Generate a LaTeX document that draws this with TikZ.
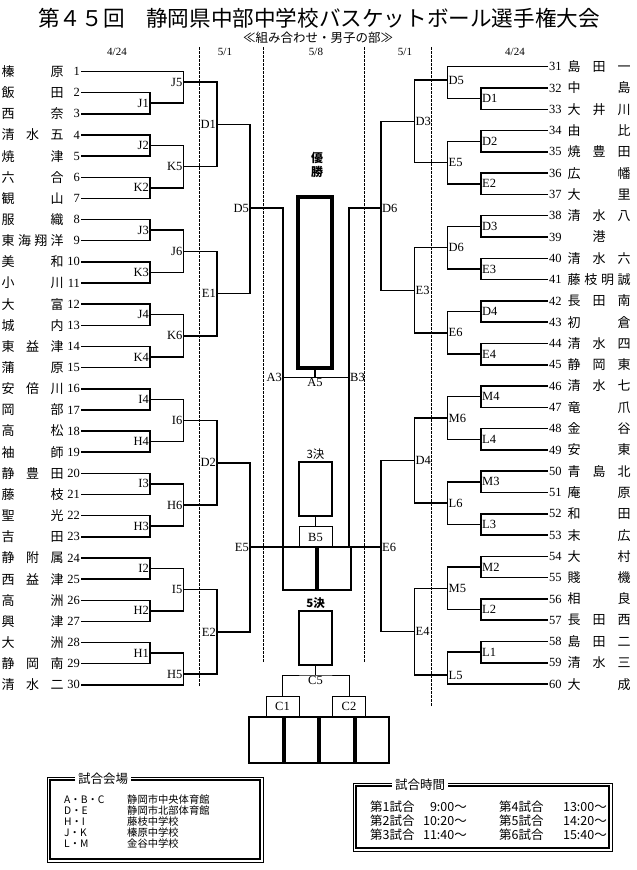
\documentclass[tikz,border=0pt]{standalone}
\usepackage{fontspec}
\setmainfont{Liberation Serif}
\newfontfamily\jp{Noto Sans CJK JP}
\usetikzlibrary{positioning}

\tikzset{
  bk/.style={line width=1.5pt},
  dsh/.style={line width=0.6pt, dash pattern=on 2.5pt off 1.5pt},
  num/.style={inner sep=1pt, font=\fontsize{12.5}{13}\selectfont},
  team/.style={inner sep=0pt, font=\jp\fontsize{13}{13}\selectfont},
  mlbl/.style={inner sep=1pt, font=\fontsize{12.5}{13}\selectfont},
  datelbl/.style={inner sep=0pt, font=\fontsize{11}{11}\selectfont},
  cell/.style={draw, line width=2pt, minimum width=33pt, minimum height=43pt, inner sep=0pt},
  tallbox/.style={draw, line width=2.2pt, minimum width=33pt, minimum height=54pt, inner sep=0pt},
  gamebox/.style={draw, line width=1pt, minimum width=33pt, minimum height=21pt, inner sep=0pt, font=\fontsize{12.5}{13}\selectfont},
  infotext/.style={inner sep=0pt, font=\jp\fontsize{10.3}{11}\selectfont},
  timetext/.style={inner sep=0pt, font=\jp\fontsize{12.5}{13}\selectfont},
  header/.style={fill=white, inner sep=3pt, font=\jp\fontsize{12.5}{13}\selectfont}
}

\begin{document}
\begin{tikzpicture}[x=1pt, y=-1pt]
  \useasboundingbox[fill=white] (0,0) rectangle (637,870);

  % Title
  \node[font=\jp\fontsize{21.6}{22}\selectfont] (title) at (319,18) {第４５回　静岡県中部中学校バスケットボール選手権大会};
  \node[font=\jp\fontsize{12.5}{13}\selectfont] (sub) at (318,38) {≪組み合わせ・男子の部≫};
  \node[datelbl] (d1) at (117,52) {4/24};
  \node[datelbl] (d2) at (225,52) {5/1};
  \node[datelbl] (d3) at (316,52) {5/8};
  \node[datelbl] (d4) at (405,52) {5/1};
  \node[datelbl] (d5) at (515,52) {4/24};

  % Day lines
  \draw[dsh] (199,47) -- (199,687);
  \draw[dsh] (263,47) -- (263,662);
  \draw[dsh] (364,47) -- (364,662);
  \draw[dsh] (431,47) -- (431,707);

  % Define teams
  \foreach \n/\nm in {1/榛 原, 2/飯 田, 3/西 奈, 4/清 水 五, 5/焼 津, 6/六 合,
      7/観 山, 8/服 織, 9/東 海 翔 洋, 10/美 和, 11/小 川, 12/大 富, 13/城 内,
      14/東 益 津, 15/蒲 原, 16/安 倍 川, 17/岡 部, 18/高 松, 19/袖 師,
      20/静 豊 田, 21/藤 枝, 22/聖 光, 23/吉 田, 24/静 附 属, 25/西 益 津,
      26/高 洲, 27/興 津, 28/大 洲, 29/静 岡 南, 30/清 水 二} {
    \node[num, anchor=east] (L\n) at (81,{71.5+(\n-1)*21.15}) {\n};
    \node[team, anchor=west] at (1.5,{71.5+(\n-1)*21.15}) {\makebox[62pt][s]{\nm}};
  }
  \foreach \n/\nm in {31/島 田 一, 32/中 島, 33/大 井 川, 34/由 比, 35/焼 豊 田,
      36/広 幡, 37/大 里, 38/清 水 八, 39/\hfil 港\hfil, 40/清 水 六, 41/藤 枝 明 誠,
      42/長 田 南, 43/初 倉, 44/清 水 四, 45/静 岡 東, 46/清 水 七, 47/竜 爪,
      48/金 谷, 49/安 東, 50/青 島 北, 51/庵 原, 52/和 田, 53/末 広, 54/大 村,
      55/賤 機, 56/相 良, 57/長 田 西, 58/島 田 二, 59/清 水 三, 60/大 成} {
    \node[num, anchor=west] (R\n) at (548,{66.7+(\n-31)*21.29}) {\n};
    \node[team, anchor=west] at (567.5,{66.7+(\n-31)*21.29}) {\makebox[63pt][s]{\nm}};
  }

  % Left bracket
  \foreach \m/\x/\y/\a/\b in {
      J1/150/103.2/L2.east/L3.east, J2/150/145.5/L4.east/L5.east,
      K2/150/187.8/L6.east/L7.east, J3/150/230.1/L8.east/L9.east,
      K3/150/272.4/L10.east/L11.east, J4/150/314.7/L12.east/L13.east,
      K4/150/357.0/L14.east/L15.east, I4/150/399.3/L16.east/L17.east,
      H4/150/441.6/L18.east/L19.east, I3/150/483.9/L20.east/L21.east,
      H3/150/526.2/L22.east/L23.east, I2/150/568.5/L24.east/L25.east,
      H2/150/610.8/L26.east/L27.east, H1/150/653.1/L28.east/L29.east,
      J5/183.5/82/L1.east/J1, K5/183.5/166.7/J2/K2,
      J6/183.5/251.3/J3/K3, K6/183.5/335.9/J4/K4,
      I6/183.5/420.5/I4/H4, H6/183.5/505.1/I3/H3,
      I5/183.5/589.7/I2/H2, H5/183.5/674/H1/L30.east,
      D1/217/124.3/J5/K5, E1/217/293.6/J6/K6,
      D2/217/462.8/I6/H6, E2/217/631.9/I5/H5,
      D5/250/208/D1/E1, E5/250/547/D2/E2} {
    \coordinate[label={[mlbl]left:\m}] (\m) at (\x,\y);
    \draw[bk] (\a) -| (\m) (\b) -| (\m);
  }

  % Right bracket
  \foreach \m/\lab/\x/\y/\a/\b in {
      rD1/D1/481/98.65/R32.west/R33.west, rD2/D2/481/141.25/R34.west/R35.west,
      rE2/E2/481/183.8/R36.west/R37.west, rD3/D3/481/226.35/R38.west/R39.west,
      rE3/E3/481/268.95/R40.west/R41.west, rD4/D4/481/311.55/R42.west/R43.west,
      rE4/E4/481/354.15/R44.west/R45.west, rM4/M4/481/396.7/R46.west/R47.west,
      rL4/L4/481/439.25/R48.west/R49.west, rM3/M3/481/481.85/R50.west/R51.west,
      rL3/L3/481/524.45/R52.west/R53.west, rM2/M2/481/567.05/R54.west/R55.west,
      rL2/L2/481/609.65/R56.west/R57.west, rL1/L1/481/652.2/R58.west/R59.west,
      rD5/D5/447.5/80/R31.west/rD1, rE5/E5/447.5/162.5/rD2/rE2,
      rD6/D6/447.5/247.65/rD3/rE3, rE6/E6/447.5/332.85/rD4/rE4,
      rM6/M6/447.5/418/rM4/rL4, rL6/L6/447.5/503.15/rM3/rL3,
      rM5/M5/447.5/588.35/rM2/rL2, rL5/L5/447.5/675/rL1/R60.west,
      D3/D3/414.5/121.25/rD5/rE5, E3/E3/414.5/290.25/rD6/rE6,
      D4/D4/414.5/460.6/rM6/rL6, E4/E4/414.5/631.7/rM5/rL5,
      D6/D6/381/208/D3/E3, E6/E6/381/547/D4/E4} {
    \coordinate[label={[mlbl]right:\lab}] (\m) at (\x,\y);
    \draw[bk] (\a) -| (\m) (\b) -| (\m);
  }

  % Final
  \node[draw, line width=3.5pt, minimum width=34pt, minimum height=171pt] (win) at (315,282.5) {};
  \node[align=center, inner sep=0pt, font=\jp\bfseries\fontsize{12}{14}\selectfont] (winlbl) at (317,165) {優\\勝};
  \coordinate[label={[mlbl]left:A3}] (A3) at (283,377.5);
  \coordinate[label={[mlbl]right:B3}] (B3) at (349,377.5);
  \coordinate[label={[mlbl]below:A5}] (A5) at (315,377.5);
  \draw[bk] (D5) -| (A3) (E5) -| (A3);
  \draw[bk] (D6) -| (B3) (E6) -| (B3);
  \draw[bk] (A3) -- (B3);
  \draw[bk] (A5) -- (win);

  % Third place
  \node[cell] (t1) at (299.5,568.5) {};
  \node[cell, right=0pt of t1] (t2) {};
  \node[gamebox] (B5) at (315.5,537) {B5};
  \node[tallbox, label={[mlbl, font=\jp\fontsize{11.5}{12}\selectfont]above:3決}] (third) at (315.5,489) {};
  \draw[bk, line width=1pt] (third) -- (B5);

  % Fifth place
  \node[tallbox, label={[mlbl, font=\jp\bfseries\fontsize{11.5}{12}\selectfont]above:5決}] (fifth) at (315.5,638) {};
  \coordinate[label={[mlbl]below:C5}] (C5) at (315.5,675);
  \node[gamebox] (C1) at (282.5,706.5) {C1};
  \node[gamebox] (C2) at (349,706.5) {C2};
  \draw[line width=1pt] (fifth) -- (C5);
  \draw[line width=1pt] (C1) |- (C5) -| (C2);
  \node[cell, minimum width=33.5pt, minimum height=46pt] (q1) at (265.75,740) {};
  \node[cell, minimum width=33.5pt, minimum height=46pt, right=0pt of q1] (q2) {};
  \node[cell, minimum width=33.5pt, minimum height=46pt, right=0pt of q2] (q3) {};
  \node[cell, minimum width=33.5pt, minimum height=46pt, right=0pt of q3] (q4) {};

  % Venues
  \draw[line width=0.5pt] (47,777) rectangle (263,862);
  \draw[line width=1.5pt] (50,780) rectangle (260,859);
  \node[header] (venue) at (103,779) {試合会場};
  \foreach \k/\v [count=\i] in {A・B・C/静岡市中央体育館, D・E/静岡市北部体育館,
      H・I/藤枝中学校, J・K/榛原中学校, L・M/金谷中学校} {
    \node[infotext, anchor=west] at (64,{789+\i*11}) {\k};
    \node[infotext, anchor=west] at (127,{789+\i*11}) {\v};
  }

  % Times
  \draw[line width=0.5pt] (353,783) rectangle (612,851);
  \draw[line width=1.5pt] (356,786) rectangle (609,848);
  \node[header] (times) at (420,785) {試合時間};
  \foreach \g/\tm/\h/\tn [count=\i] in {第1試合/9:00～/第4試合/13:00～,
      第2試合/10:20～/第5試合/14:20～, 第3試合/11:40～/第6試合/15:40～} {
    \node[timetext, anchor=west] at (370,{793+\i*14}) {\g};
    \node[timetext, anchor=east] at (467,{793+\i*14}) {\tm};
    \node[timetext, anchor=west] at (499,{793+\i*14}) {\h};
    \node[timetext, anchor=east] at (607,{793+\i*14}) {\tn};
  }
\end{tikzpicture}
\end{document}
